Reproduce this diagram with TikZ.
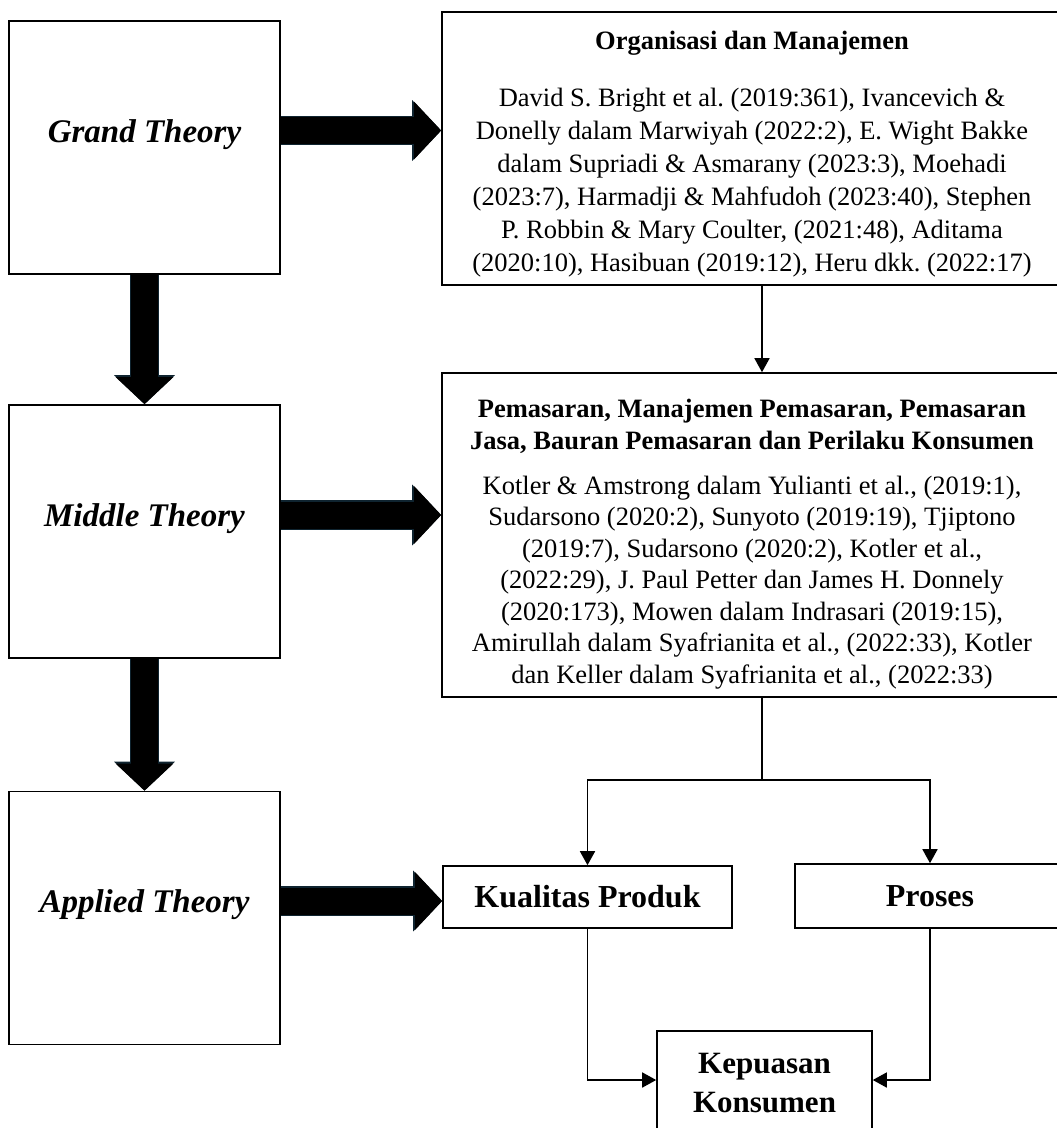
\documentclass[tikz,border=0pt]{standalone}
\usepackage{fontspec}
\setmainfont{Liberation Serif}
\usetikzlibrary{arrows.meta,calc}
\frenchspacing
\definecolor{arrowedge}{HTML}{0F2430}
\tikzset{
  theorybox/.style={rectangle,draw,line width=1.6pt,minimum width=271pt,minimum height=253pt},
  theorytext/.style={font=\fontsize{33}{38}\selectfont\bfseries\itshape},
  refbox/.style={rectangle,draw,line width=1.6pt,align=center,inner sep=0pt,font=\fontsize{26.5}{33}\selectfont},
  varbox/.style={rectangle,draw,line width=1.6pt,align=center,inner sep=0pt,font=\fontsize{32}{39}\selectfont\bfseries},
  conn/.style={line width=1.6pt,-{Triangle[width=15pt,length=14pt]}},
  bigarrow/.style={line width=27pt,-{Triangle[width=56pt,length=27pt]},
    preaction={draw=arrowedge,line width=29.5pt,-{Triangle[width=59pt,length=29pt]}}}
}

\begin{document}
\begin{tikzpicture}[x=1pt,y=-1pt]
  \useasboundingbox (0,0) rectangle (1057,1128);

  % -- Left column: the three theory levels --
  \node[theorybox,label={[theorytext,yshift=13pt]center:Grand Theory}]   (grand)   at (144.5,147.5) {};
  \node[theorybox,label={[theorytext,yshift=13pt]center:Middle Theory}]  (middle)  at (144.5,531.5) {};
  \node[theorybox,label={[theorytext,yshift=13pt]center:Applied Theory}] (applied) at (144.5,918) {};

  % -- Right column: references per level --
  \node[refbox,minimum width=620pt,minimum height=273pt] (org) at (752,148.5)
    {\rule{0pt}{30pt}{\bfseries Organisasi dan Manajemen}\\[24pt]
     David S. Bright et al. (2019:361), Ivancevich \&\\
     Donelly dalam Marwiyah (2022:2), E. Wight Bakke\\
     dalam Supriadi \& Asmarany (2023:3), Moehadi\\
     (2023:7), Harmadji \& Mahfudoh (2023:40), Stephen\\
     P. Robbin \& Mary Coulter, (2021:48), Aditama\\
     (2020:10), Hasibuan (2019:12), Heru dkk. (2022:17)};
  \node[refbox,minimum width=620pt,minimum height=324pt,font=\fontsize{26.5}{31.5}\selectfont] (pemasaran) at (752,535)
    {\rule{0pt}{36pt}{\bfseries Pemasaran, Manajemen Pemasaran, Pemasaran}\\[0.5pt]
     {\bfseries Jasa, Bauran Pemasaran dan Perilaku Konsumen}\\[13.5pt]
     Kotler \& Amstrong dalam Yulianti et al., (2019:1),\\
     Sudarsono (2020:2), Sunyoto (2019:19), Tjiptono\\
     (2019:7), Sudarsono (2020:2), Kotler et al.,\\
     (2022:29), J. Paul Petter dan James H. Donnely\\
     (2020:173), Mowen dalam Indrasari (2019:15),\\
     Amirullah dalam Syafrianita et al., (2022:33), Kotler\\
     dan Keller dalam Syafrianita et al., (2022:33)};

  % -- Variables --
  \node[varbox,minimum width=289pt,minimum height=62pt] (kualitas) at (587.5,897) {Kualitas Produk};
  \node[varbox,minimum width=270pt,minimum height=64pt] (proses) at (930,896) {Proses};
  \node[varbox,minimum width=215pt,minimum height=98pt,font=\fontsize{31}{39}\selectfont\bfseries] (kepuasan) at (764.5,1080) {\rule{0pt}{27pt}Kepuasan\\Konsumen};

  % -- Thick arrows between levels --
  \coordinate (gout) at ($(grand.east)+(0,17pt)$);
  \coordinate (mout) at ($(middle.east)+(0,16.5pt)$);
  \coordinate (aout) at ($(applied.east)+(0,17pt)$);
  \draw[bigarrow] (grand.south) -- (middle.north);
  \draw[bigarrow] (middle.south) -- (applied.north);
  \draw[bigarrow] (gout) -- (gout -| org.west);
  \draw[bigarrow] (mout) -- (mout -| pemasaran.west);
  \draw[bigarrow] (aout) -- (aout -| kualitas.west);

  % -- Thin connectors --
  \coordinate (orgout) at ($(org.south)+(10,0)$);
  \coordinate (pemout) at ($(pemasaran.south)+(10,0)$);
  \coordinate (branch) at ($(pemout)+(0,82)$);
  \draw[conn] (orgout) -- (orgout |- pemasaran.north);
  \draw[line width=1.6pt] (pemout) -- (branch);
  \draw[conn] (branch) -| (kualitas.north);
  \draw[conn] (branch) -| (proses.north);
  \draw[conn] (kualitas.south) |- (kepuasan.west);
  \draw[conn] (proses.south) |- (kepuasan.east);

\end{tikzpicture}
\end{document}
